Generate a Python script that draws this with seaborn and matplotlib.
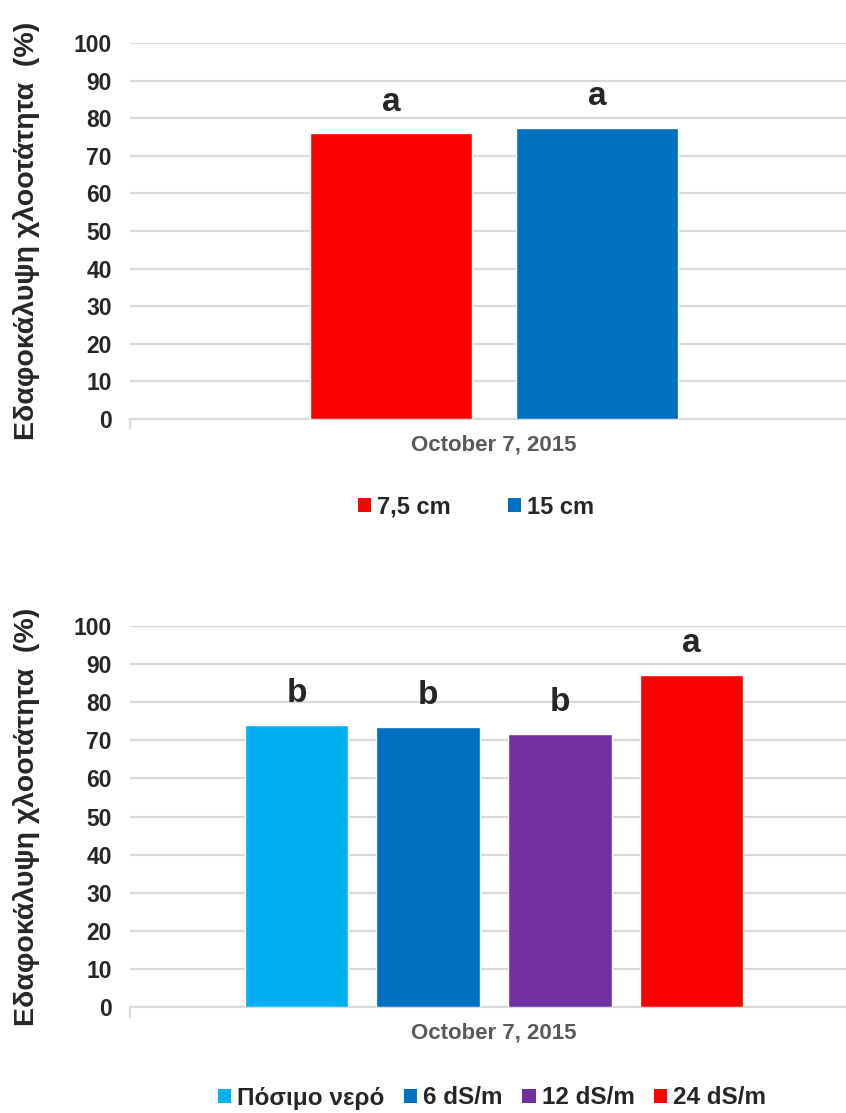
import matplotlib
matplotlib.use("Agg")
import matplotlib.pyplot as plt
import seaborn as sns
import pandas as pd
from matplotlib.patches import Patch

sns.set_theme(style="white")
plt.rcParams["font.family"] = ["Liberation Sans", "DejaVu Sans"]

# Data
date_label = "October 7, 2015"

depth_groups = ["7,5 cm", "15 cm"]
depth_values = [76.0, 77.5]
depth_letters = ["a", "a"]
depth_colors = ["#FF0000", "#0070C0"]

water_groups = ["Πόσιμο νερό", "6 dS/m", "12 dS/m", "24 dS/m"]
water_values = [74.0, 73.6, 71.6, 87.2]
water_letters = ["b", "b", "b", "a"]
water_colors = ["#00B0F0", "#0070C0", "#7030A0", "#FF0000"]

y_ticks = list(range(0, 101, 10))
y_label = "Εδαφοκάλυψη χλοοτάτητα  (%)"

W, H = 846, 1113
fig = plt.figure(figsize=(W / 100, H / 100), dpi=100)


def ax_rect(left, top, right, bottom):
    return [left / W, 1 - bottom / H, (right - left) / W, (bottom - top) / H]


def panel(rect, groups, values, letters, colors, width, legend_x, legend_y,
          legend_size, legend_gap):
    ax = fig.add_axes(rect)
    df = pd.DataFrame({"date": [date_label] * len(groups),
                       "group": groups, "value": values})
    sns.barplot(data=df, x="date", y="value", hue="group", hue_order=groups,
                palette=colors, width=width, gap=0.214, dodge=True,
                saturation=1, legend=False, ax=ax, zorder=3)
    ax.set_ylim(0, 100)
    ax.set_xlim(-0.5, 0.5)
    ax.set_yticks(y_ticks)
    ax.yaxis.grid(True, color="#D9D9D9", linewidth=1.6, zorder=0)
    ax.set_axisbelow(True)
    for s in ["left", "top", "right"]:
        ax.spines[s].set_visible(False)
    ax.spines["bottom"].set_color("#D9D9D9")
    ax.spines["bottom"].set_linewidth(1.6)
    ax.tick_params(axis="y", length=0, pad=13, labelsize=16.5)
    ax.tick_params(axis="x", length=0, pad=11, labelsize=16, labelcolor="#595959")
    for t in ax.get_yticklabels() + ax.get_xticklabels():
        t.set_fontweight("bold")
    ax.set_xlabel("")
    ax.set_ylabel(y_label, fontsize=20.5, fontweight="bold")
    ax.yaxis.set_label_coords(-0.124, 0.5)
    # small tick at the left end of the category axis
    ax.plot([-0.5, -0.5], [0, -2.5], color="#D9D9D9", lw=1.6, clip_on=False)

    for patch, lab, v in zip(ax.patches, letters, values):
        cx = patch.get_x() + patch.get_width() / 2
        ax.text(cx, v + 6.0, lab, ha="center", va="baseline", fontsize=24,
                fontweight="bold")

    handles = [Patch(facecolor=c, edgecolor="none") for c in colors]
    fig.legend(handles, groups, loc="center",
               bbox_to_anchor=(legend_x / W, 1 - legend_y / H),
               ncol=len(groups), frameon=False, handlelength=0.55,
               handleheight=0.55, handletextpad=0.25, columnspacing=legend_gap,
               prop={"size": legend_size, "weight": "bold"})
    return ax


panel(ax_rect(130, 43, 858, 419), depth_groups, depth_values, depth_letters,
      depth_colors, 0.566, 476, 507, 17, 2.4)
panel(ax_rect(130, 626, 858, 1007), water_groups, water_values, water_letters,
      water_colors, 0.723, 492, 1098, 17.5, 0.8)

fig.savefig("out.png", dpi=100)
